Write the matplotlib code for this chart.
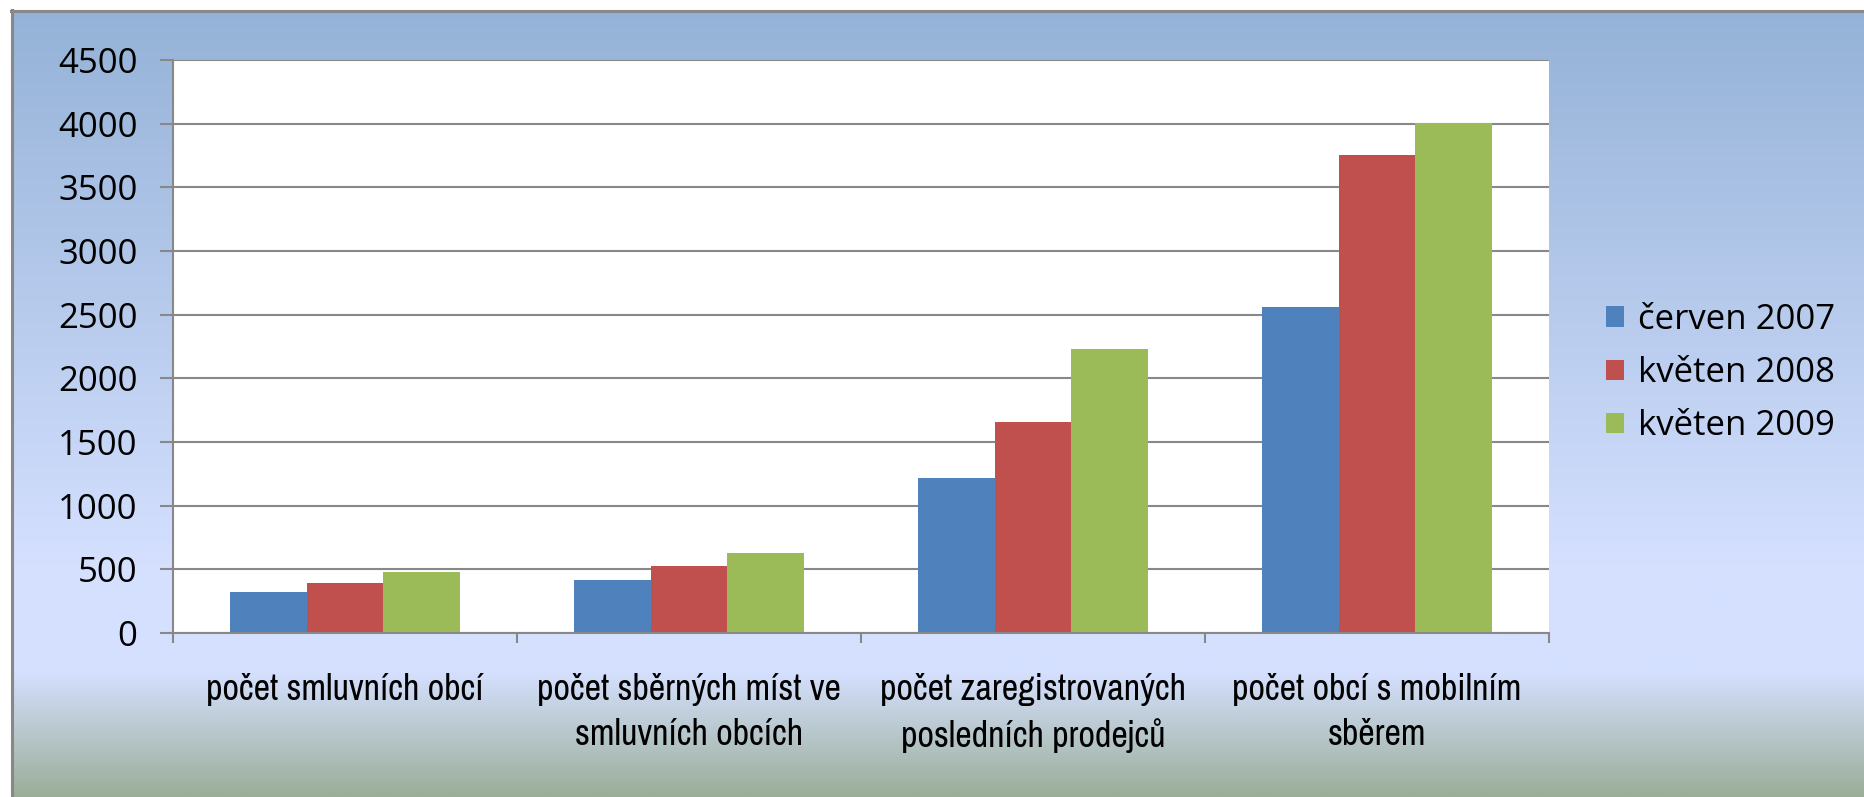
import numpy as np
import matplotlib
matplotlib.use("Agg")
import matplotlib.pyplot as plt
from matplotlib import font_manager
from matplotlib.colors import to_rgb

# data
categories = ["počet smluvních obcí",
              "počet sběrných míst ve\nsmluvních obcích",
              "počet zaregistrovaných\nposledních prodejců",
              "počet obcí s mobilním\nsběrem"]
series_names = ["červen 2007", "květen 2008", "květen 2009"]
cerven_2007 = [325, 420, 1220, 2560]
kveten_2008 = [395, 530, 1655, 3755]
kveten_2009 = [480, 630, 2230, 4005]
series_values = [cerven_2007, kveten_2008, kveten_2009]
colors = ["#4f81bd", "#c0504d", "#9bbb59"]
y_ticks = list(range(0, 4501, 500))

# fonts
names = {f.name for f in font_manager.fontManager.ttflist}
main_font = "Open Sans" if "Open Sans" in names else "DejaVu Sans"

# look for a narrow font in a regular weight for the category labels
narrow_font, narrow_weight, narrow_size = main_font, "normal", 22
found = []
for f in font_manager.fontManager.ttflist:
    wt = f.weight if isinstance(f.weight, int) else 400
    if ("Narrow" in f.name or "Condensed" in f.name or
            f.stretch in ("condensed", "semi-condensed")) and wt <= 450 and f.style == "normal":
        found.append((f.name, wt, f.stretch))
if found:
    found.sort()
    narrow_font, narrow_weight = found[0][0], found[0][1]
    narrow_size = 26
plt.rcParams["font.family"] = [main_font, "DejaVu Sans"]

W, H = 1865, 797
fig = plt.figure(figsize=(W / 100, H / 100), dpi=100)
fig.patch.set_facecolor("white")

# background gradient (chart area fill)
bg = fig.add_axes([12 / W, 0, 1 - 12 / W, 1 - 10 / H], zorder=0)
bg.set_axis_off()
stops_y = [0, 555, 662, 787]
stops_c = ["#94b2d7", "#d5e0ff", "#d5e0ff", "#9aae98"]
ys = np.arange(788)
rgb = np.array([to_rgb(c) for c in stops_c])
grad = np.stack([np.interp(ys, stops_y, rgb[:, k]) for k in range(3)], axis=1)
bg.imshow(grad[:, None, :], aspect="auto", extent=[0, 1, 0, 1])
bg.set_xlim(0, 1)
bg.set_ylim(0, 1)

# outer border
border = "#888888"
fig.add_artist(plt.Line2D([12.5 / W, 12.5 / W], [0, 1 - 10 / H], color=border, lw=2.2))
fig.add_artist(plt.Line2D([11 / W, 1], [1 - 10.5 / H, 1 - 10.5 / H], color=border, lw=2.2))

ax = fig.add_axes([173 / W, 1 - 633 / H, (1549 - 173) / W, (633 - 60) / H], zorder=1)
ax.set_facecolor("white")

x = np.arange(len(categories))
w = 1 / 4.5
for i, (vals, name, col) in enumerate(zip(series_values, series_names, colors)):
    ax.bar(x + (i - 1) * w, vals, width=w, color=col, label=name, zorder=2)

ax.set_xlim(-0.5, len(categories) - 0.5)
ax.set_ylim(0, 4500)
ax.set_yticks(y_ticks)
ax.set_yticklabels([str(v) for v in y_ticks], fontsize=25)
ax.yaxis.grid(True, color=border, lw=1.5)
ax.set_axisbelow(True)

ax.set_xticks(x)
ax.set_xticklabels(categories, fontsize=narrow_size, family=[narrow_font, "DejaVu Sans"],
                   fontweight=narrow_weight, linespacing=1.42)
ax.set_xticks(np.arange(-0.5, len(categories)), minor=True)
ax.tick_params(axis="x", which="major", length=0, pad=29)
ax.tick_params(axis="x", which="minor", length=7.5, width=1.5, color=border, direction="out")
ax.tick_params(axis="y", length=9.5, width=1.5, color=border, pad=16)

for s in ["top", "right"]:
    ax.spines[s].set_visible(False)
for s in ["left", "bottom"]:
    ax.spines[s].set_color(border)
    ax.spines[s].set_linewidth(1.5)

leg = fig.legend(loc="center left", bbox_to_anchor=(1606 / W, 1 - 373 / H),
                 frameon=False, fontsize=25, handlelength=0.52, handleheight=0.52,
                 handletextpad=0.4, labelspacing=0.55, borderpad=0, borderaxespad=0)

fig.savefig("out.png", dpi=100, facecolor=fig.get_facecolor())
